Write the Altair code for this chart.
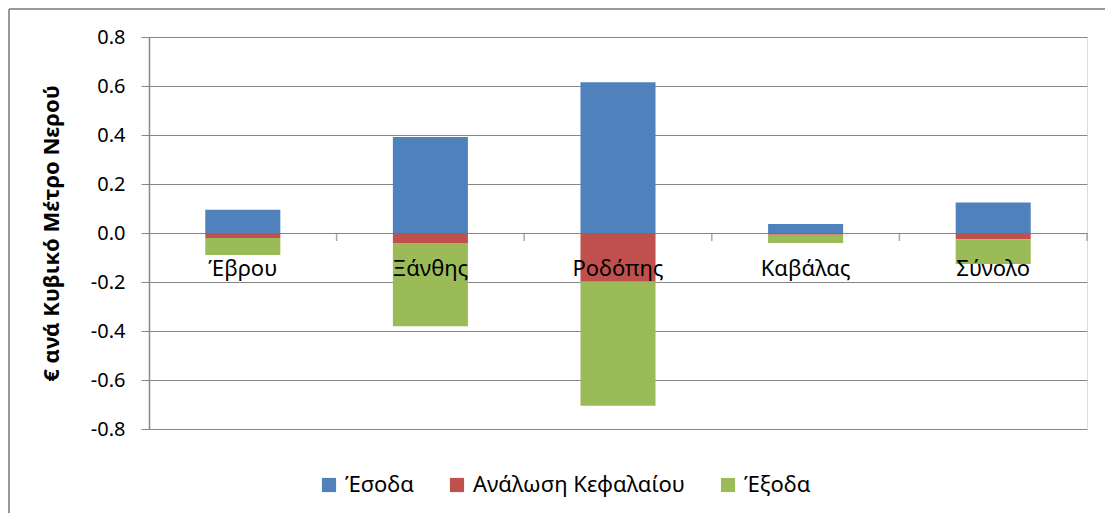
import altair as alt
import pandas as pd

categories = ["Έβρου", "Ξάνθης", "Ροδόπης", "Καβάλας", "Σύνολο"]
series = ["Έσοδα", "Ανάλωση Κεφαλαίου", "Έξοδα"]
esoda = [0.095, 0.392, 0.615, 0.037, 0.125]
analosi = [-0.020, -0.041, -0.199, -0.007, -0.025]
exoda = [-0.070, -0.340, -0.506, -0.034, -0.102]
colors = ["#4F81BD", "#C0504D", "#9BBB59"]
y_ticks = [-0.8, -0.6, -0.4, -0.2, 0.0, 0.2, 0.4, 0.6, 0.8]

rows = []
for i, c in enumerate(categories):
    for k, (s, vals) in enumerate(zip(series, [esoda, analosi, exoda])):
        rows.append({"cat": c, "series": s, "value": vals[i], "ord": k})
df = pd.DataFrame(rows)
cat_df = pd.DataFrame({"cat": categories})

FONT = "Noto Sans"
GRID = "#868686"

xscale = alt.Scale(domain=categories, paddingInner=0, paddingOuter=0)
yscale = alt.Scale(domain=[-0.8, 0.8], nice=False)

bars = alt.Chart(df).mark_bar(width={"band": 0.4}).encode(
    x=alt.X("cat:N", scale=xscale, sort=categories, axis=None),
    y=alt.Y("value:Q", scale=yscale, stack="zero",
            axis=alt.Axis(values=y_ticks, format=".1f", title="€ ανά Κυβικό Μέτρο Νερού",
                          labelExpr="replace(datum.label, '\u2212', '-')",
                          grid=True, gridColor=GRID, gridWidth=1,
                          domainColor=GRID, domainWidth=1.5,
                          tickColor=GRID, tickSize=8, tickWidth=1,
                          labelFont=FONT, labelFontSize=20, labelColor="#000",
                          labelPadding=16,
                          titleFont=FONT, titleFontSize=22, titleFontWeight="bold",
                          titleColor="#000", titleX=-86, titleY=196,
                          titleAngle=270, titleAlign="center", titleBaseline="bottom")),
    color=alt.Color("series:N", scale=alt.Scale(domain=series, range=colors),
                    legend=alt.Legend(title=None, orient="none", direction="horizontal",
                                      legendX=169, legendY=437,
                                      symbolType="square", symbolSize=200,
                                      symbolStrokeWidth=0, labelLimit=0,
                                      labelFont=FONT, labelFontSize=22, labelColor="#000",
                                      columnPadding=32, labelOffset=5)),
    order=alt.Order("ord:Q"),
)

ticks = alt.Chart(cat_df).mark_tick(orient="vertical", size=8, thickness=1.5,
                                    yOffset=4, color=GRID).encode(
    x=alt.X("cat:N", scale=xscale, sort=categories, bandPosition=1, axis=None),
    y=alt.datum(0, scale=yscale),
)

labels = alt.Chart(cat_df).mark_text(font=FONT, fontSize=22, baseline="alphabetic",
                                     dy=43, color="#000").encode(
    x=alt.X("cat:N", scale=xscale, sort=categories, bandPosition=0.5, axis=None),
    y=alt.datum(0, scale=yscale),
    text="cat:N",
)

border_left = alt.Chart(cat_df).mark_rule(color="#999", strokeWidth=2).encode(
    x=alt.value(-140), y=alt.value(-28), y2=alt.value(500))
border_top = alt.Chart(cat_df).mark_rule(color="#999", strokeWidth=2).encode(
    x=alt.value(-140), x2=alt.value(1000), y=alt.value(-28))

chart = alt.layer(bars, ticks, labels, border_left, border_top).properties(
    width=938, height=392,
    autosize=alt.AutoSizeParams(type="none"),
    padding={"left": 141, "top": 29, "right": 18, "bottom": 84},
).configure_view(stroke=None).configure(background="white")

chart.save("out.html", embed_options={"renderer": "svg", "actions": False})
